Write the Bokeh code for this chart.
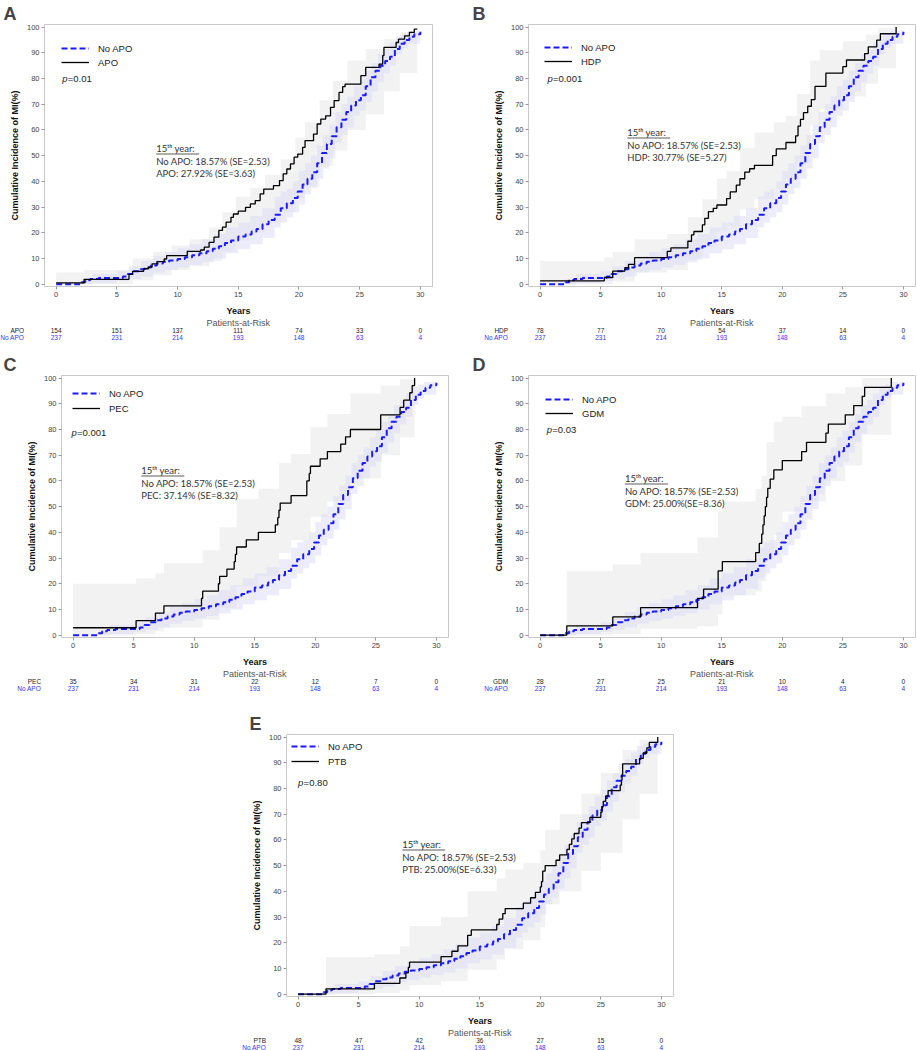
from bokeh.plotting import figure
from bokeh.layouts import column, row, Spacer
from bokeh.models import Range1d, Legend, LegendItem, FixedTicker
from bokeh.core.properties import value
from bokeh.embed import file_html
from bokeh.resources import INLINE

# ---------------- data ----------------
X_TICKS = [0, 5, 10, 15, 20, 25, 30]
Y_TICKS = [0, 10, 20, 30, 40, 50, 60, 70, 80, 90, 100]
RISK_NAP = [237, 231, 214, 193, 148, 63, 4]

# No APO (reference group) cumulative incidence, shared by all panels
NAP_T = [0, 2.1, 2.4, 2.8, 3.5, 5.5, 5.9, 6.3, 6.8, 7.3, 7.8, 8.3, 8.8, 9.3, 10.0, 10.6, 11.2, 11.8, 12.4, 12.9,
         13.4, 13.9, 14.4, 15.0, 15.6, 16.1, 16.5, 17.0, 17.5, 18.0, 18.5, 19.0, 19.5, 19.9, 20.3, 20.7, 21.1,
         21.5, 21.9, 22.3, 22.7, 23.1, 23.5, 23.9, 24.3, 24.7, 25.1, 25.5, 25.9, 26.3, 26.7, 27.1, 27.5, 27.9,
         28.3, 28.7, 29.1, 29.5, 30.0]
NAP_Y = [0, 0.8, 1.5, 2.0, 2.4, 3.0, 4.0, 5.0, 5.8, 6.5, 7.3, 8.0, 8.7, 9.2, 9.8, 10.5, 11.3, 12.0, 12.8, 13.8,
         14.8, 16.0, 17.0, 18.57, 19.3, 20.5, 21.5, 23.3, 25.0, 27.0, 29.5, 31.5, 33.5, 36.0, 38.8, 41.0, 43.5,
         47.0, 51.0, 54.5, 57.5, 61.0, 64.0, 67.0, 69.5, 71.5, 73.5, 77.0, 80.5, 83.0, 85.0, 86.8, 88.5, 91.5,
         93.5, 95.0, 96.2, 97.2, 98.2]
NAP_BAND_T = [0, 2.1, 3, 5, 6, 7, 8, 9, 10, 11, 12, 13, 14, 15, 16, 17, 18, 18.5, 19, 19.5, 20, 20.5, 21, 21.5,
              22, 22.5, 23, 23.5, 24, 24.5, 25, 25.5, 26, 26.5, 27, 27.5, 28, 28.5, 29, 30]
NAP_LO = [0, 0, 0.5, 1.2, 2.0, 3.0, 4.5, 5.5, 6.5, 7.5, 8.5, 10.0, 12.0, 13.6, 15.5, 18.0, 22.0, 24.0, 26.0, 28.0,
          31.0, 35.0, 37.5, 41.0, 45.0, 49.0, 55.0, 58.0, 61.0, 65.5, 67.5, 71.0, 75.0, 78.5, 82.0, 85.0, 89.5,
          92.0, 93.5, 96.0]
NAP_HI = [0, 1.8, 4.0, 5.0, 7.0, 9.0, 11.0, 12.5, 14.0, 15.5, 17.5, 19.5, 22.0, 24.0, 26.5, 29.5, 34.0, 36.0, 37.0,
          40.0, 44.0, 47.0, 50.0, 54.0, 58.0, 62.0, 67.0, 70.0, 73.0, 77.0, 79.5, 83.0, 86.0, 89.5, 91.5, 94.0,
          96.5, 97.5, 98.5, 99.5]

# A: APO
APO_T = [0, 2.3, 6.0, 6.3, 7.2, 7.6, 7.9, 8.3, 8.9, 9.1, 10.8, 11.9, 12.2, 12.6, 13.0, 13.4, 13.7, 14.0, 14.4,
         14.6, 15.0, 15.6, 16.0, 16.4, 16.8, 17.1, 17.9, 18.4, 18.7, 19.0, 19.3, 19.6, 19.9, 20.3, 20.5, 21.2,
         21.5, 21.8, 22.2, 22.6, 22.9, 23.3, 23.6, 23.8, 25.1, 25.5, 26.6, 26.9, 27.0, 28.0, 28.2, 28.7, 29.1,
         29.5, 29.75]
APO_Y = [0.5, 1.9, 3.8, 5.0, 6.0, 6.6, 7.9, 8.8, 9.8, 11.1, 12.8, 13.3, 14.4, 16.3, 18.3, 20.9, 22.2, 24.1, 26.0,
         27.3, 28.4, 29.9, 31.2, 32.5, 35.1, 37.0, 38.3, 40.3, 42.9, 44.8, 46.8, 49.4, 50.6, 53.2, 55.8, 58.4,
         62.3, 64.2, 65.5, 68.8, 71.4, 74.6, 76.8, 77.8, 81.1, 84.3, 85.6, 88.9, 92.1, 94.0, 95.3, 96.6, 97.9,
         99.2, 99.2]
APO_BAND_T = [0, 2.3, 6.3, 8.0, 9.5, 11.0, 12.6, 13.7, 14.8, 16.0, 17.2, 18.5, 19.7, 20.5, 21.7, 22.8, 24.0,
              25.5, 27.0, 28.3, 29.75]
APO_LO = [0, 0, 1.5, 3.5, 5.5, 7.0, 9.0, 12.5, 17.0, 20.0, 24.0, 28.0, 33.5, 38.0, 46.0, 52.0, 60.0, 66.0, 75.0,
          82.0, 88.0]
APO_HI = [4.5, 5.5, 10.0, 12.5, 15.0, 17.5, 22.0, 28.0, 34.0, 37.5, 42.5, 48.5, 57.0, 63.0, 71.5, 79.0, 87.0,
          91.5, 95.5, 98.0, 100.0]
RISK_APO = [154, 151, 137, 111, 74, 33, 0]

# B: HDP
HDP_T = [0, 5.3, 6.0, 7.0, 7.3, 7.8, 10.5, 10.8, 12.2, 12.5, 12.7, 13.4, 13.6, 13.9, 14.3, 14.6, 15.4, 15.7,
         16.2, 16.5, 16.9, 17.3, 17.7, 19.2, 19.5, 20.3, 21.1, 21.3, 21.5, 21.75, 22.1, 22.4, 22.7, 23.6, 25.0,
         25.3, 26.8, 27.1, 27.8, 28.1, 29.4]
HDP_Y = [1.3, 2.6, 5.1, 6.4, 7.7, 10.3, 12.8, 14.1, 16.7, 19.2, 20.5, 23.1, 25.6, 28.2, 29.5, 30.8, 33.3, 35.9,
         38.5, 41.0, 43.6, 44.9, 46.2, 50.0, 52.6, 55.1, 57.7, 61.5, 64.1, 66.7, 69.2, 71.8, 76.9, 82.1, 84.6,
         87.2, 89.7, 92.3, 94.9, 97.4, 100.0]
HDP_BAND_T = [0, 5.3, 6.0, 7.8, 10.5, 12.2, 13.4, 14.6, 15.4, 16.5, 17.7, 19.3, 20.3, 21.2, 22.3, 23.1, 25.0,
              26.9, 27.9, 29.4]
HDP_LO = [0, 0, 1.0, 4.5, 5.5, 9.5, 14.5, 20.5, 22.5, 29.0, 33.0, 37.0, 41.0, 47.0, 62.0, 68.0, 73.0, 78.0,
          84.0, 90.0]
HDP_HI = [9.0, 10.5, 12.5, 17.5, 19.5, 26.0, 33.0, 41.0, 44.0, 53.0, 59.0, 63.0, 65.5, 74.0, 87.0, 91.0, 94.5,
          97.0, 99.5, 100.0]
RISK_HDP = [78, 77, 70, 54, 37, 14, 0]

# C: PEC
PEC_T = [0, 5.2, 6.8, 7.5, 10.6, 10.7, 12.0, 12.1, 12.7, 13.3, 13.4, 13.5, 14.3, 15.3, 16.7, 16.9, 17.0, 17.1,
         18.0, 19.3, 19.5, 19.6, 20.4, 21.0, 22.1, 22.5, 22.9, 25.4, 27.0, 27.3, 27.8, 28.0, 28.2]
PEC_Y = [2.9, 5.7, 8.6, 11.4, 14.3, 17.1, 20.0, 22.9, 25.7, 28.6, 31.4, 34.3, 37.1, 40.0, 42.9, 45.7, 48.6,
         51.4, 54.3, 60.0, 62.9, 65.7, 68.6, 71.4, 74.3, 77.1, 80.0, 85.7, 88.6, 91.4, 94.3, 97.1, 100.0]
PEC_BAND_T = [0, 5.2, 6.8, 7.5, 10.7, 12.1, 13.5, 15.3, 17.0, 18.0, 19.6, 21.0, 22.9, 25.4, 27.0, 28.2]
PEC_LO = [0, 0.5, 1.5, 3.0, 6.0, 10.5, 19.0, 23.0, 32.0, 37.0, 46.0, 52.0, 61.0, 70.0, 77.0, 85.0]
PEC_HI = [20.0, 22.0, 24.0, 28.0, 33.0, 42.0, 53.0, 57.0, 67.0, 70.5, 81.0, 86.0, 94.0, 97.0, 99.5, 100.0]
RISK_PEC = [35, 34, 31, 22, 12, 7, 0]

# D: GDM
GDM_T = [0, 2.2, 6.0, 8.3, 13.0, 13.5, 14.7, 15.05, 17.8, 18.1, 18.3, 18.4, 18.5, 18.6, 18.7, 18.8, 19.0, 19.3,
         20.0, 21.6, 22.0, 23.6, 23.8, 25.2, 25.9, 26.6, 26.8, 29.0]
GDM_Y = [0, 3.6, 7.1, 10.7, 14.3, 17.9, 25.0, 28.6, 32.1, 35.7, 39.3, 42.9, 46.4, 50.0, 53.6, 57.1, 60.7, 64.3,
         67.9, 71.4, 75.0, 78.6, 82.1, 85.7, 89.3, 92.9, 96.4, 100.0]
GDM_BAND_T = [0, 2.2, 6.0, 8.3, 13.0, 14.7, 15.05, 17.8, 18.3, 18.7, 19.3, 20.0, 21.6, 23.6, 25.2, 26.6, 29.0]
GDM_LO = [0, 0, 0.5, 2.5, 3.5, 8.0, 15.5, 17.0, 21.0, 30.0, 39.0, 48.0, 52.0, 60.0, 66.0, 78.0, 88.0]
GDM_HI = [0, 25.0, 27.5, 32.0, 38.0, 48.0, 52.0, 57.0, 62.0, 75.0, 83.0, 85.0, 89.0, 94.0, 96.5, 100.0, 100.0]
RISK_GDM = [28, 27, 25, 21, 10, 4, 0]

# E: PTB
PTB_T = [0, 2.3, 6.3, 8.4, 8.9, 9.1, 9.2, 11.8, 12.7, 13.2, 14.0, 14.3, 16.4, 16.6, 16.9, 17.1, 18.6, 19.2,
         19.6, 20.0, 20.1, 20.2, 20.4, 21.3, 21.6, 22.2, 22.4, 22.6, 22.8, 23.2, 23.4, 24.1, 25.0, 25.1, 25.2,
         25.4, 25.6, 26.6, 26.7, 26.75, 26.8, 28.2, 28.5, 28.8, 29.0, 29.7]
PTB_Y = [0, 2.1, 4.2, 6.3, 8.3, 10.4, 12.5, 14.6, 16.7, 18.8, 22.9, 25.0, 27.1, 29.2, 31.3, 33.3, 35.4, 37.5,
         39.6, 41.7, 43.8, 47.9, 50.0, 52.1, 54.2, 56.3, 58.3, 60.4, 62.5, 64.6, 66.7, 68.8, 70.8, 72.9, 75.0,
         77.1, 79.2, 81.3, 83.3, 85.4, 89.6, 91.7, 93.8, 95.8, 97.9, 100.0]
PTB_BAND_T = [0, 2.3, 6.3, 8.4, 9.2, 11.8, 14.0, 16.4, 17.1, 18.6, 20.0, 20.4, 21.6, 23.4, 25.0, 26.8, 28.2, 29.7]
PTB_LO = [0, 0, 0.5, 1.5, 3.5, 5.0, 9.5, 13.5, 17.5, 21.0, 26.0, 35.0, 40.0, 48.0, 55.0, 68.0, 78.0, 88.0]
PTB_HI = [0, 14.5, 15.5, 18.5, 26.5, 30.0, 40.0, 45.0, 48.5, 51.0, 56.0, 64.0, 70.0, 78.0, 86.0, 95.0, 99.0, 100.0]
RISK_PTB = [48, 47, 42, 36, 27, 15, 0]

NAP_NOTE = "No APO: 18.57% (SE=2.53)"

# ---------------- layout / style ----------------
XS, XE = -0.96, 31.0
YS, YE = -0.9, 101.0
FRAME_H = 262
BOTTOM = 31
RISK_H = 23
FONT = "Liberation Sans"
NOTE_FONT = "Lato"
BLUE = "#1a1aff"


def build(letter, group, g_t, g_y, b_t, b_lo, b_hi, risk, pval, note, L):
    fw, lb, rb, tb = L["fw"], L["lb"], L["rb"], L["tb"]
    sx = fw / (XE - XS)
    sy = FRAME_H / (YE - YS)
    p = figure(frame_width=fw, frame_height=FRAME_H, x_range=Range1d(XS, XE), y_range=Range1d(YS, YE),
               min_border_left=lb, min_border_right=rb, min_border_top=tb, min_border_bottom=BOTTOM,
               output_backend="svg", toolbar_location=None, title=letter)
    p.frame_align = False
    p.title.text_font = FONT
    p.title.text_font_size = "18px"
    p.title.text_font_style = "bold"
    p.title.align = "left"
    p.title.offset = L["toff"]
    p.title.standoff = 2
    p.outline_line_color = "#c8c8c8"
    p.xgrid.visible = False
    p.ygrid.visible = False
    for ax in (p.xaxis[0], p.yaxis[0]):
        ax.axis_line_color = None
        ax.major_tick_in = 0
        ax.major_tick_out = 3
        ax.major_tick_line_color = "#999999"
        ax.minor_tick_line_color = None
        ax.major_label_text_font = FONT
        ax.major_label_text_font_size = "7.5px"
        ax.major_label_text_color = "#444444"
        ax.major_label_standoff = 2
        ax.axis_label_text_font = FONT
        ax.axis_label_text_font_size = "9px"
        ax.axis_label_text_font_style = "bold"
        ax.axis_label_text_color = "#111111"
    p.xaxis.axis_label_standoff = 6
    p.yaxis.axis_label_standoff = 4
    p.xaxis.ticker = FixedTicker(ticks=X_TICKS)
    p.yaxis.ticker = FixedTicker(ticks=Y_TICKS)
    p.xaxis.axis_label = "Years"
    p.yaxis.axis_label = "Cumulative Incidence of MI(%)"

    p.varea_step(x=b_t, y1=b_lo, y2=b_hi, step_mode="after", fill_color="#f2f2f2", fill_alpha=1.0)
    p.varea_step(x=NAP_BAND_T, y1=NAP_LO, y2=NAP_HI, step_mode="after", fill_color="#dcdcf5", fill_alpha=0.55)
    r_nap = p.step(x=NAP_T, y=NAP_Y, mode="after", line_color=BLUE, line_width=2, line_dash="6 3")
    r_g = p.step(x=g_t, y=g_y, mode="after", line_color="black", line_width=1.3)

    leg = Legend(items=[LegendItem(label="No APO", renderers=[r_nap]), LegendItem(label=group, renderers=[r_g])],
                 location="top_left", margin=L["lm"], padding=0, spacing=L["ls"],
                 label_height=14, glyph_height=14, glyph_width=28, label_standoff=9,
                 label_text_font=FONT, label_text_font_size="9.5px", label_text_color="#222222",
                 background_fill_alpha=0, border_line_alpha=0)
    p.add_layout(leg)

    # p-value
    py = YE - L["pdy"] / sy
    p.text(x=[L["px"]], y=[py], text=["p"], text_font=value(FONT), text_font_style="italic",
           text_font_size="9.5px", text_baseline="middle", text_color="#222222")
    p.text(x=[L["px"]], y=[py], text=[pval], x_offset=5.5, text_font=value(FONT),
           text_font_size="9.5px", text_baseline="middle", text_color="#222222")

    # 15th year note
    ny = YE - L["ndy"] / sy
    lines = ["15ᵗʰ year:", NAP_NOTE, note]
    for i, t in enumerate(lines):
        p.text(x=[L["nx"]], y=[ny], text=[t], y_offset=12.5 * i, text_font=value(NOTE_FONT),
               text_font_size="9.5px", text_baseline="middle", text_color="#333333")
    uy = YE - (L["ndy"] + 5.5) / sy
    p.segment(x0=[L["nx"]], y0=[uy], x1=[L["nx"] + 43 / sx], y1=[uy], line_color="#333333", line_width=0.8)

    # patients at risk table
    rf = figure(width=lb + fw + rb, height=RISK_H, x_range=Range1d(XS - lb / sx, XE + rb / sx),
                y_range=Range1d(RISK_H, 0), min_border=0, x_axis_type=None, y_axis_type=None,
                output_backend="svg", toolbar_location=None)
    rf.frame_align = False
    rf.outline_line_color = None
    rf.text(x=[15], y=[4.5], text=["Patients-at-Risk"], text_font=value(FONT), text_font_size="9px",
            text_align="center", text_baseline="middle", text_color="#555555")
    rf.text(x=X_TICKS, y=[11.5] * 7, text=[str(v) for v in risk], text_font=value(FONT), text_font_size="6.5px",
            text_align="center", text_baseline="middle", text_color="#222222")
    rf.text(x=X_TICKS, y=[19] * 7, text=[str(v) for v in RISK_NAP], text_font=value(FONT),
            text_font_size="6.5px", text_align="center", text_baseline="middle", text_color="#3333ff")
    rf.text(x=[-32 / sx], y=[11.5], text=[group], text_font=value(FONT), text_font_size="6.5px",
            text_align="right", text_baseline="middle", text_color="#222222")
    rf.text(x=[-32 / sx], y=[19], text=["No APO"], text_font=value(FONT), text_font_size="6.5px",
            text_align="right", text_baseline="middle", text_color="#3333ff")
    return column(p, rf, spacing=0)


LA = dict(fw=388, lb=44, rb=30, tb=19, toff=-41, lm=17, ls=0, px=0.5, pdy=54, nx=8.24, ndy=124)
LB = dict(fw=387, lb=66, rb=1, tb=19, toff=-56, lm=16, ls=0, px=0.6, pdy=54, nx=7.2, ndy=108)
LC = dict(fw=387, lb=61, rb=14, tb=34, toff=-58, lm=11, ls=1, px=-0.14, pdy=57, nx=5.63, ndy=95)
LD = dict(fw=387, lb=66, rb=1, tb=34, toff=-56, lm=17, ls=0, px=0.55, pdy=54, nx=7.0, ndy=103)
LE = dict(fw=387, lb=46, rb=27, tb=42, toff=-37, lm=5, ls=1, px=0.0, pdy=48, nx=8.6, ndy=110)

pa = build("A", "APO", APO_T, APO_Y, APO_BAND_T, APO_LO, APO_HI, RISK_APO, "=0.01",
           "APO: 27.92% (SE=3.63)", LA)
pb = build("B", "HDP", HDP_T, HDP_Y, HDP_BAND_T, HDP_LO, HDP_HI, RISK_HDP, "=0.001",
           "HDP: 30.77% (SE=5.27)", LB)
pc = build("C", "PEC", PEC_T, PEC_Y, PEC_BAND_T, PEC_LO, PEC_HI, RISK_PEC, "=0.001",
           "PEC: 37.14% (SE=8.32)", LC)
pd = build("D", "GDM", GDM_T, GDM_Y, GDM_BAND_T, GDM_LO, GDM_HI, RISK_GDM, "=0.03",
           "GDM: 25.00%(SE=8.36)", LD)
pe = build("E", "PTB", PTB_T, PTB_Y, PTB_BAND_T, PTB_LO, PTB_HI, RISK_PTB, "=0.80",
           "PTB: 25.00%(SE=6.33)", LE)

layout = column(row(pa, pb, spacing=0), row(pc, pd, spacing=0),
                row(Spacer(width=240, height=1), pe, spacing=0), spacing=0)

open("out.html", "w").write(file_html(layout, INLINE))
